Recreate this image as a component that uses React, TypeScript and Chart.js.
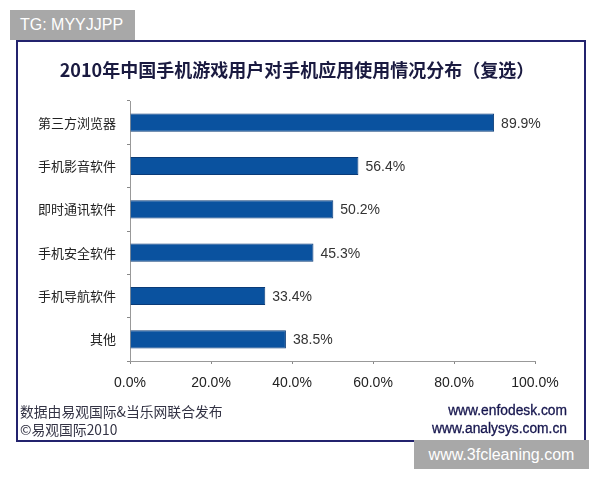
import React, { useEffect, useRef } from "react";
import { Chart, registerables } from "chart.js";

Chart.register(...registerables);

const categories = ["第三方浏览器", "手机影音软件", "即时通讯软件", "手机安全软件", "手机导航软件", "其他"];
const values = [89.9, 56.4, 50.2, 45.3, 33.4, 38.5];
const xTicks = [0, 20, 40, 60, 80, 100];

const titleText = "2010年中国手机游戏用户对手机应用使用情况分布（复选）";
const footLeft = ["数据由易观国际&当乐网联合发布", "©易观国际2010"];
const footRight = ["www.enfodesk.com", "www.analysys.com.cn"];
const watermarkTop = "TG: MYYJJPP";
const watermarkBottom = "www.3fcleaning.com";

const CJK = '"Noto Sans CJK SC", "Liberation Sans", sans-serif';
const SANS = '"Liberation Sans", Arial, sans-serif';

export default function App() {
  const ref = useRef<HTMLCanvasElement | null>(null);

  useEffect(() => {
    if (!ref.current) return;
    const valueLabels = {
      id: "valueLabels",
      afterDatasetsDraw(chart: any) {
        const ctx = chart.ctx;
        const meta = chart.getDatasetMeta(0);
        ctx.save();
        ctx.font = `14px ${SANS}`;
        ctx.fillStyle = "#333333";
        ctx.textAlign = "left";
        ctx.textBaseline = "middle";
        meta.data.forEach((el: any, i: number) => {
          ctx.fillText(values[i].toFixed(1) + "%", el.x + 7, el.y + 1);
        });
        ctx.restore();
      },
    };
    const chart = new Chart(ref.current, {
      type: "bar",
      data: {
        labels: categories,
        datasets: [
          {
            data: values,
            backgroundColor: "#0a529f",
            borderColor: "#0a3b78",
            borderWidth: 1,
            categoryPercentage: 1,
            barPercentage: 0.42,
          },
        ],
      },
      options: {
        indexAxis: "y",
        animation: false,
        responsive: false,
        layout: { padding: { top: 101, right: 65, left: 0, bottom: 0 } },
        plugins: { legend: { display: false }, tooltip: { enabled: false }, title: { display: false } },
        scales: {
          x: {
            min: 0,
            max: 100,
            afterFit: (s: any) => {
              s.height = 480 - 361;
            },
            afterBuildTicks: (s: any) => {
              s.ticks = xTicks.map((v) => ({ value: v }));
            },
            grid: { drawOnChartArea: false, tickLength: 3, color: "#888888" },
            border: { color: "#999999" },
            ticks: {
              padding: 11,
              color: "#222222",
              font: { family: SANS, size: 14 },
              callback: (v: any) => Number(v).toFixed(1) + "%",
            },
          },
          y: {
            afterFit: (s: any) => {
              s.width = 130;
            },
            grid: { drawOnChartArea: false, tickLength: 3, color: "#888888", offset: true },
            border: { color: "#999999" },
            ticks: {
              padding: 11,
              color: "#222222",
              font: { family: CJK, size: 13 },
            },
          },
        },
      },
      plugins: [valueLabels],
    });
    return () => chart.destroy();
  }, []);

  const abs = (o: React.CSSProperties): React.CSSProperties => ({ position: "absolute", ...o });

  return (
    <div style={{ position: "fixed", left: 0, top: 0, width: 600, height: 480, background: "#ffffff" }}>
      <div
        style={abs({
          left: 16,
          top: 40,
          width: 566,
          height: 398,
          border: "2px solid #23236e",
          boxSizing: "content-box",
        })}
      />
      <canvas ref={ref} width={600} height={480} style={abs({ left: 0, top: 0 })} />
      <div
        style={abs({
          left: 0,
          width: 594,
          top: 57,
          textAlign: "center",
          fontFamily: CJK,
          fontWeight: 700,
          fontSize: 18,
          lineHeight: "24px",
          color: "#1a1a40",
        })}
      >
        {titleText}
      </div>
      <div style={abs({ left: 20, top: 402, fontFamily: CJK, fontSize: 13.8, lineHeight: "18px", color: "#333344" })}>
        {footLeft.map((t) => (
          <div key={t}>{t}</div>
        ))}
      </div>
      <div
        style={abs({
          right: 33,
          top: 402,
          textAlign: "right",
          fontFamily: SANS,
          fontSize: 13.8,
          lineHeight: "18px",
          color: "#16164e",
          WebkitTextStroke: "0.3px #16164e",
        })}
      >
        {footRight.map((t) => (
          <div key={t}>{t}</div>
        ))}
      </div>
      <div
        style={abs({
          left: 10,
          top: 10,
          width: 125,
          height: 30,
          background: "#a8a8a8",
          color: "#ffffff",
          fontFamily: SANS,
          fontSize: 16,
          lineHeight: "30px",
          paddingLeft: 10,
          boxSizing: "border-box",
        })}
      >
        {watermarkTop}
      </div>
      <div
        style={abs({
          left: 414,
          top: 440,
          width: 175,
          height: 29,
          background: "#a8a8a8",
          color: "#ffffff",
          fontFamily: SANS,
          fontSize: 16,
          lineHeight: "29px",
          textAlign: "center",
        })}
      >
        {watermarkBottom}
      </div>
    </div>
  );
}
